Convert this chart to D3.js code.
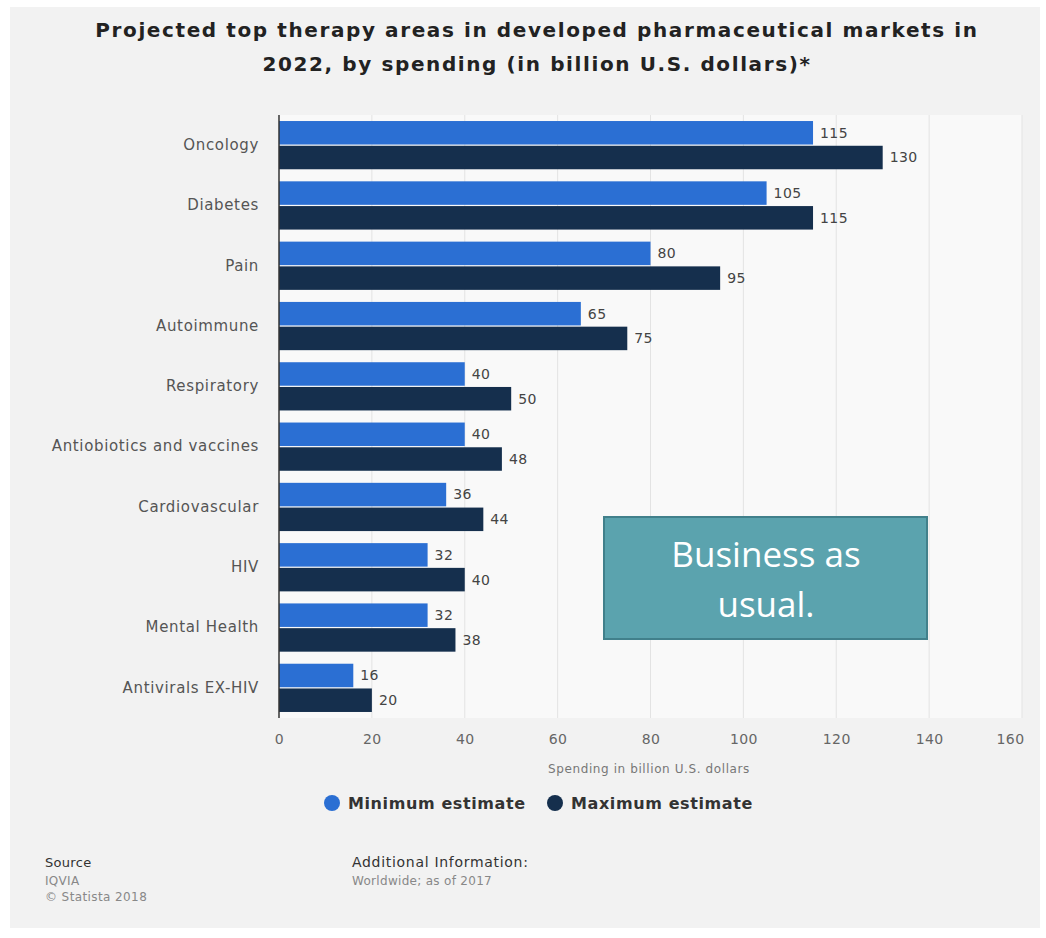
<!DOCTYPE html>
<html>
<head>
<meta charset="utf-8">
<script src="https://cdn.jsdelivr.net/npm/d3@7"></script>
<style>
  html, body { margin: 0; padding: 0; background: #ffffff; }
  svg { display: block; }
</style>
</head>
<body>
<svg id="chart" width="1046" height="938"></svg>
<script>
// Therapy areas and projected 2022 spending (billion U.S. dollars)
const categories = [
  "Oncology", "Diabetes", "Pain", "Autoimmune", "Respiratory",
  "Antiobiotics and vaccines", "Cardiovascular", "HIV", "Mental Health", "Antivirals EX-HIV"
];
const minEstimate = [115, 105, 80, 65, 40, 40, 36, 32, 32, 16];
const maxEstimate = [130, 115, 95, 75, 50, 48, 44, 40, 38, 20];
const seriesNames = ["Minimum estimate", "Maximum estimate"];
const xTicks = [0, 20, 40, 60, 80, 100, 120, 140, 160];

const colors = ["#2b6fd3", "#152f4d"];
const font = "'DejaVu Sans', sans-serif";

const svg = d3.select("#chart");

// page background
svg.append("rect").attr("x", 10).attr("y", 7).attr("width", 1030).attr("height", 921)
  .attr("fill", "#f2f2f2");

const plot = { left: 279, right: 1022, top: 115, bottom: 718 };

svg.append("rect")
  .attr("x", plot.left).attr("y", plot.top)
  .attr("width", plot.right - plot.left).attr("height", plot.bottom - plot.top)
  .attr("fill", "#f9f9f9");

const x = d3.scaleLinear().domain([0, 160]).range([plot.left, plot.right]);
const y = d3.scaleBand().domain(categories).range([plot.top, plot.bottom]).paddingInner(0.2).paddingOuter(0.1);
const sub = d3.scaleBand().domain([0, 1]).range([0, y.bandwidth()]).paddingInner(0.05);

// gridlines
svg.append("g")
  .selectAll("line").data(xTicks.slice(1)).join("line")
  .attr("x1", d => x(d)).attr("x2", d => x(d))
  .attr("y1", plot.top).attr("y2", plot.bottom)
  .attr("stroke", "#e3e3e3").attr("stroke-width", 1);

// x axis tick labels
const xAxis = d3.axisBottom(x).tickValues(xTicks).tickSize(0).tickPadding(16);
const gx = svg.append("g").attr("transform", `translate(0,${plot.bottom})`).call(xAxis);
gx.select(".domain").remove();
gx.selectAll("text")
  .attr("font-family", font).attr("font-size", 14).attr("letter-spacing", 0.4).attr("fill", "#666");
gx.selectAll(".tick").filter(d => d === 160).select("text").attr("dx", -12);

// y axis category labels
const yAxis = d3.axisLeft(y).tickSize(0).tickPadding(20);
const gy = svg.append("g").attr("transform", `translate(${plot.left},0)`).call(yAxis);
gy.select(".domain").remove();
gy.selectAll("text")
  .attr("font-family", font).attr("font-size", 15).attr("letter-spacing", 0.65).attr("fill", "#555");

// bars
const rows = categories.map((c, i) => ({ c, vals: [minEstimate[i], maxEstimate[i]] }));
const groups = svg.append("g").selectAll("g").data(rows).join("g")
  .attr("transform", d => `translate(0,${y(d.c)})`);

groups.selectAll("rect").data(d => d.vals.map((v, k) => ({ v, k }))).join("rect")
  .attr("x", x(0))
  .attr("y", d => sub(d.k))
  .attr("width", d => x(d.v) - x(0))
  .attr("height", sub.bandwidth())
  .attr("fill", d => colors[d.k]);

groups.selectAll("text").data(d => d.vals.map((v, k) => ({ v, k }))).join("text")
  .attr("x", d => x(d.v) + 7)
  .attr("y", d => sub(d.k) + sub.bandwidth() / 2)
  .attr("dy", "0.35em")
  .attr("font-family", font).attr("font-size", 14).attr("letter-spacing", 0.4).attr("fill", "#444")
  .text(d => d.v);

// y axis line
svg.append("line")
  .attr("x1", plot.left).attr("x2", plot.left)
  .attr("y1", plot.top).attr("y2", plot.bottom)
  .attr("stroke", "#333").attr("stroke-width", 1.5);

// title
const title = svg.append("text")
  .attr("x", 537).attr("text-anchor", "middle")
  .attr("font-family", font).attr("font-weight", "bold").attr("font-size", 20)
  .attr("letter-spacing", 1.6).attr("fill", "#222");
title.append("tspan").attr("x", 537).attr("y", 37)
  .text("Projected top therapy areas in developed pharmaceutical markets in");
title.append("tspan").attr("x", 537).attr("y", 71)
  .text("2022, by spending (in billion U.S. dollars)*");

// x axis title
svg.append("text")
  .attr("x", 649).attr("y", 773).attr("text-anchor", "middle")
  .attr("font-family", font).attr("font-size", 12).attr("letter-spacing", 0.6).attr("fill", "#777")
  .text("Spending in billion U.S. dollars");

// legend
const legendItems = [
  { name: seriesNames[0], color: colors[0], cx: 332 },
  { name: seriesNames[1], color: colors[1], cx: 555 }
];
const lg = svg.append("g").selectAll("g").data(legendItems).join("g");
lg.append("circle").attr("cx", d => d.cx).attr("cy", 803).attr("r", 8).attr("fill", d => d.color);
lg.append("text")
  .attr("x", d => d.cx + 16).attr("y", 803).attr("dy", "0.35em")
  .attr("font-family", font).attr("font-weight", "bold").attr("font-size", 16)
  .attr("letter-spacing", 0.6).attr("fill", "#333")
  .text(d => d.name);

// footer
const footer = [
  { x: 45, y: 867, t: "Source", size: 13, ls: 0.3, fill: "#333" },
  { x: 45, y: 885, t: "IQVIA", size: 12, ls: 0.3, fill: "#888" },
  { x: 45, y: 901, t: "© Statista 2018", size: 12, ls: 0.4, fill: "#888" },
  { x: 352, y: 867, t: "Additional Information:", size: 14, ls: 0.7, fill: "#333" },
  { x: 352, y: 885, t: "Worldwide; as of 2017", size: 12, ls: 0.3, fill: "#888" }
];
svg.append("g").selectAll("text").data(footer).join("text")
  .attr("x", d => d.x).attr("y", d => d.y)
  .attr("font-family", font).attr("font-size", d => d.size).attr("letter-spacing", d => d.ls)
  .attr("fill", d => d.fill)
  .text(d => d.t);

// annotation box
const box = svg.append("g");
box.append("rect")
  .attr("x", 604).attr("y", 517).attr("width", 323).attr("height", 122)
  .attr("fill", "#5ba3ae").attr("stroke", "#41808b").attr("stroke-width", 2);
const note = box.append("text")
  .attr("text-anchor", "middle")
  .attr("font-family", "'Open Sans', sans-serif").attr("font-size", 35).attr("fill", "#ffffff");
note.append("tspan").attr("x", 766).attr("y", 567).text("Business as");
note.append("tspan").attr("x", 766).attr("y", 617).text("usual.");
</script>
</body>
</html>
